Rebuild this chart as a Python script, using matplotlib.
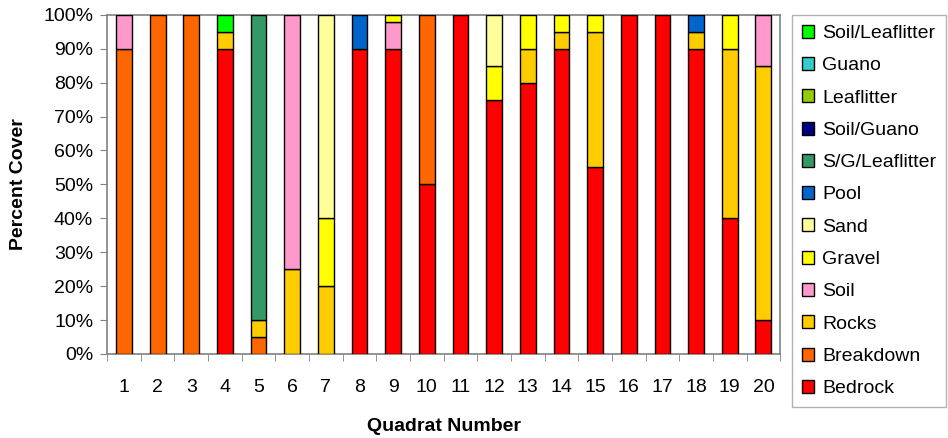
import numpy as np
import matplotlib
matplotlib.use("Agg")
import matplotlib.pyplot as plt
from matplotlib.patches import Patch

plt.rcParams["font.family"] = ["Liberation Sans", "DejaVu Sans"]

quadrats = [str(i) for i in range(1, 21)]

# stacked bottom -> top
categories = ["Bedrock", "Breakdown", "Rocks", "Soil", "Gravel", "Sand", "Pool",
              "S/G/Leaflitter", "Soil/Guano", "Leaflitter", "Guano", "Soil/Leaflitter"]
colors = ["#FF0000", "#FF6600", "#FFCC00", "#FF99CC", "#FFFF00", "#FFFF99", "#0066CC",
          "#339966", "#000080", "#99CC00", "#33CCCC", "#00FF00"]

bedrock        = [0, 0, 0, 90, 0, 0, 0, 90, 90, 50, 100, 75, 80, 90, 55, 100, 100, 90, 40, 10]
breakdown      = [90, 100, 100, 0, 5, 0, 0, 0, 0, 50, 0, 0, 0, 0, 0, 0, 0, 0, 0, 0]
rocks          = [0, 0, 0, 5, 5, 25, 20, 0, 0, 0, 0, 0, 10, 5, 40, 0, 0, 5, 50, 75]
soil           = [10, 0, 0, 0, 0, 75, 0, 0, 8, 0, 0, 0, 0, 0, 0, 0, 0, 0, 0, 15]
gravel         = [0, 0, 0, 0, 0, 0, 20, 0, 2, 0, 0, 10, 10, 5, 5, 0, 0, 0, 10, 0]
sand           = [0, 0, 0, 0, 0, 0, 60, 0, 0, 0, 0, 15, 0, 0, 0, 0, 0, 0, 0, 0]
pool           = [0, 0, 0, 0, 0, 0, 0, 10, 0, 0, 0, 0, 0, 0, 0, 0, 0, 5, 0, 0]
sg_leaflitter  = [0, 0, 0, 0, 90, 0, 0, 0, 0, 0, 0, 0, 0, 0, 0, 0, 0, 0, 0, 0]
soil_guano     = [0] * 20
leaflitter     = [0] * 20
guano          = [0] * 20
soil_leaflitter = [0, 0, 0, 5, 0, 0, 0, 0, 0, 0, 0, 0, 0, 0, 0, 0, 0, 0, 0, 0]

series = [bedrock, breakdown, rocks, soil, gravel, sand, pool,
          sg_leaflitter, soil_guano, leaflitter, guano, soil_leaflitter]

fig = plt.figure(figsize=(9.48, 4.38), dpi=100)
ax = fig.add_axes([0.113, 0.192, 0.710, 0.774])

x = np.arange(len(quadrats))
bottom = np.zeros(len(quadrats))
for name, vals, col in zip(categories, series, colors):
    vals = np.array(vals, dtype=float)
    mask = vals > 0
    ax.bar(x[mask], vals[mask], width=0.47, bottom=bottom[mask], color=col,
           edgecolor="black", linewidth=1.0, zorder=3)
    bottom += vals

ax.set_xlim(-0.5, len(quadrats) - 0.5)
ax.set_ylim(0, 100)
ax.set_yticks(np.arange(0, 101, 10))
ax.set_yticklabels([f"{v}%" for v in range(0, 101, 10)], fontsize=14)
ax.set_xticks(x)
ax.set_xticklabels(quadrats, fontsize=14)
ax.set_xticks(np.arange(-0.5, len(quadrats), 1), minor=True)
ax.tick_params(axis="x", which="major", length=0, pad=18)
ax.tick_params(axis="x", which="minor", length=5, color="#808080")
ax.tick_params(axis="y", length=5, color="#808080", pad=5)

for sp in ax.spines.values():
    sp.set_color("#808080")
    sp.set_linewidth(1.2)

ax.set_ylabel("Percent Cover", fontsize=14, fontweight="bold", labelpad=12)
ax.set_xlabel("Quadrat Number", fontsize=14, fontweight="bold", labelpad=16)

handles = [Patch(facecolor=c, edgecolor="black", label=n)
           for n, c in zip(categories[::-1], colors[::-1])]
fig.legend(handles=handles, loc="upper left", bbox_to_anchor=(0.8354, 0.9658),
           borderaxespad=0, fontsize=14, frameon=True, fancybox=False,
           edgecolor="#A0A0A0", handlelength=0.65, handleheight=0.65,
           handletextpad=0.4, labelspacing=0.77, borderpad=0.5)

fig.savefig("out.png", dpi=100)
